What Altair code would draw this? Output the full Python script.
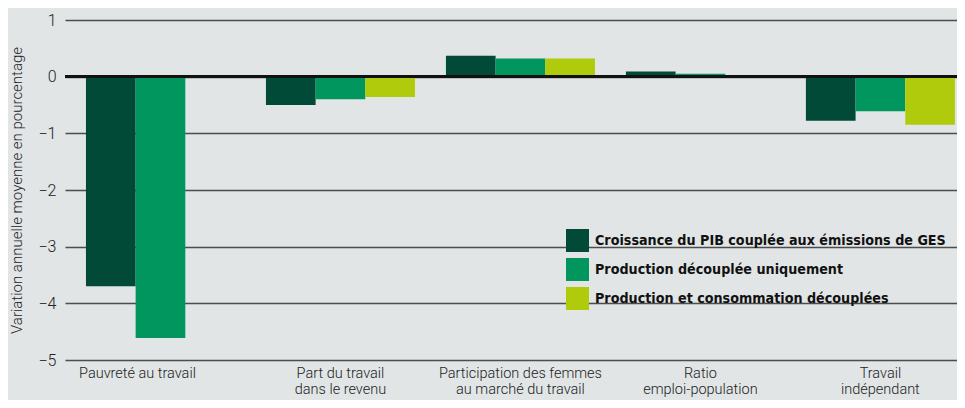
import altair as alt
import pandas as pd

categories = [
    "Pauvreté au travail",
    "Part du travail\ndans le revenu",
    "Participation des femmes\nau marché du travail",
    "Ratio\nemploi-population",
    "Travail\nindépendant",
]
series = [
    "Croissance du PIB couplée aux émissions de GES",
    "Production découplée uniquement",
    "Production et consommation découplées",
]
coupled = [-3.70, -0.50, 0.37, 0.09, -0.78]
decoupled_output = [-4.61, -0.40, 0.32, 0.05, -0.61]
decoupled_both = [None, -0.36, 0.32, None, -0.85]
colors = ["#004a37", "#00965e", "#b0cb0b"]
y_ticks = [1, 0, -1, -2, -3, -4, -5]

rows = []
for s, vals in zip(series, [coupled, decoupled_output, decoupled_both]):
    for c, v in zip(categories, vals):
        if v is not None:
            rows.append({"cat": c, "series": s, "value": v})
df = pd.DataFrame(rows)

axis_font = "Roboto"
legend_font = "Liberation Sans Narrow, DejaVu Sans Condensed, sans-serif"

bars = alt.Chart(df).mark_bar().encode(
    x=alt.X(
        "cat:N",
        sort=categories,
        scale=alt.Scale(paddingInner=0.172, paddingOuter=0.064, align=0.91),
        axis=alt.Axis(
            title=None,
            labelExpr="split(datum.label, '\\n')",
            labelAngle=0,
            ticks=False,
            domain=False,
            labelPadding=6,
            labelFontSize=14.5,
            labelLineHeight=16.5,
            labelBaseline="top",
            labelColor="#222222",
            labelFont=axis_font,
            labelFontWeight=300,
            labelOffset={"condition": {"test": "datum.value == 'Pauvreté au travail'", "value": -23}, "value": 0},
        ),
    ),
    xOffset=alt.XOffset("series:N", sort=series, scale=alt.Scale(domain=series)),
    y=alt.Y(
        "value:Q",
        scale=alt.Scale(domain=[-5, 1], nice=False, zero=False),
        axis=alt.Axis(
            values=y_ticks,
            format="d",
            title="Variation annuelle moyenne en pourcentage",
            grid=True,
            gridColor="#4d4d4d",
            gridWidth=1.5,
            ticks=False,
            domain=False,
            labelPadding=9,
            labelFontSize=16,
            labelFont=axis_font,
            labelFontWeight=300,
            labelColor="#222222",
            titleFont=axis_font,
            titleFontSize=15,
            titleFontWeight=300,
            titleColor="#222222",
            titleX=-41,
            titleY=170,
        ),
    ),
    color=alt.Color(
        "series:N",
        sort=series,
        scale=alt.Scale(domain=series, range=colors),
        legend=alt.Legend(
            title=None,
            orient="none",
            legendX=501,
            legendY=209,
            symbolType="square",
            symbolSize=529,
            symbolStrokeWidth=0,
            symbolOpacity=1,
            labelFont=legend_font,
            labelFontSize=14.2,
            labelFontWeight="bold",
            labelColor="#111111",
            labelOffset=6,
            labelLimit=600,
            rowPadding=6,
        ),
    ),
)

zero_rule = alt.Chart(df).mark_rule(color="#111111", strokeWidth=2.5).encode(y=alt.datum(0))

chart = (
    alt.layer(bars, zero_rule)
    .properties(
        width=892,
        height=340,
        padding={"left": 57, "top": 12, "right": 0, "bottom": 40},
        autosize=alt.AutoSizeParams(type="none"),
        background="#e1e5e6",
    )
    .configure_view(stroke=None)
)

chart.save("out.html", embed_options={"renderer": "svg", "actions": False})
